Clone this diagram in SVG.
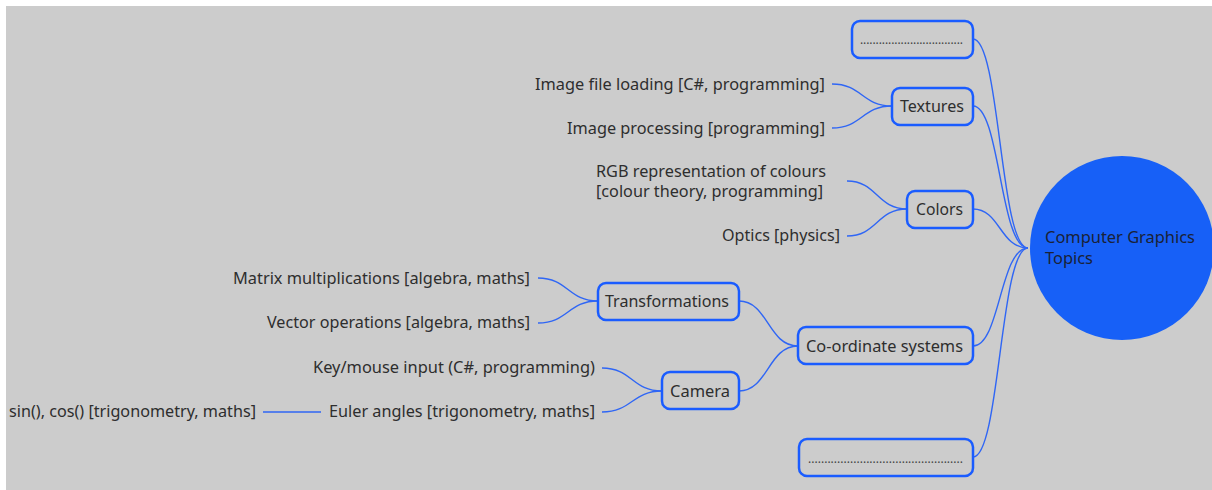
<svg xmlns="http://www.w3.org/2000/svg" width="1212" height="490" viewBox="0 0 1212 490">
<style>
.bg{fill:#cccccc}
.box{fill:none;stroke:#1a5cff;stroke-width:2.5}
.lbl{font-family:"Noto Sans","Open Sans",sans-serif;font-size:16px;fill:#2e2e2e}
.end{text-anchor:end}
.mid{text-anchor:middle}
.root{fill:#1a2238}
.dots{font-family:"Noto Sans",sans-serif;font-size:12px;fill:#444}
.con path{fill:none;stroke:#2f66f5;stroke-width:1.4}
</style>
<rect class="bg" x="6" y="6" width="1206" height="484"/>
<g id="connectors" class="con">
<path d="M973,39 C1000,39 1000,248 1028,248"/>
<path d="M973,106 C1000,106 1000,248 1028,248"/>
<path d="M973,209 C1000,209 1000,248 1028,248"/>
<path d="M973,346 C1000,346 1000,248 1028,248"/>
<path d="M973,457 C1000,457 1000,248 1028,248"/>
<path d="M832,84 C862,84 862,106 892,106"/>
<path d="M832,128 C862,128 862,106 892,106"/>
<path d="M847,181 C877,181 877,209 907,209"/>
<path d="M847,236 C877,236 877,209 907,209"/>
<path d="M739,301 C768,301 768,346 798,346"/>
<path d="M739,391 C768,391 768,346 798,346"/>
<path d="M538,278 C568,278 568,301 598,301"/>
<path d="M538,323 C568,323 568,301 598,301"/>
<path d="M602,368 C632,368 632,391 662,391"/>
<path d="M602,412 C632,412 632,391 662,391"/>
<path d="M263,412 L321,412"/>
</g>
<g id="root">
<circle cx="1122" cy="248" r="92" fill="#1760f7"/>
<text class="lbl root" x="1045" y="243" textLength="150" lengthAdjust="spacingAndGlyphs">Computer Graphics</text>
<text class="lbl root" x="1045" y="264" textLength="48" lengthAdjust="spacingAndGlyphs">Topics</text>
</g>
<g id="node-top">
<rect class="box" x="852" y="21" width="121" height="37" rx="8"/>
<text class="dots" x="860" y="44" textLength="103" lengthAdjust="spacing">.................................</text>
</g>
<g id="node-textures">
<rect class="box" x="892" y="88" width="81" height="37" rx="8"/>
<text class="lbl" x="900" y="112" textLength="64" lengthAdjust="spacingAndGlyphs">Textures</text>
</g>
<g id="node-colors">
<rect class="box" x="907" y="191" width="66" height="37" rx="8"/>
<text class="lbl" x="916" y="215" textLength="47" lengthAdjust="spacingAndGlyphs">Colors</text>
</g>
<g id="node-coord">
<rect class="box" x="798" y="327" width="175" height="37" rx="8"/>
<text class="lbl" x="806" y="352" textLength="157" lengthAdjust="spacingAndGlyphs">Co-ordinate systems</text>
</g>
<g id="node-bottom">
<rect class="box" x="799" y="439" width="174" height="37" rx="8"/>
<text class="dots" x="808" y="463" textLength="155" lengthAdjust="spacing">................................................</text>
</g>
<g id="node-transformations">
<rect class="box" x="598" y="283" width="141" height="37" rx="8"/>
<text class="lbl" x="605" y="307" textLength="124" lengthAdjust="spacingAndGlyphs">Transformations</text>
</g>
<g id="node-camera">
<rect class="box" x="662" y="372" width="77" height="37" rx="8"/>
<text class="lbl" x="670" y="397" textLength="60" lengthAdjust="spacingAndGlyphs">Camera</text>
</g>
<g id="leaf-image-loading"><text class="lbl" x="535" y="90" textLength="290" lengthAdjust="spacingAndGlyphs">Image file loading [C#, programming]</text></g>
<g id="leaf-image-processing"><text class="lbl" x="567" y="134" textLength="258" lengthAdjust="spacingAndGlyphs">Image processing [programming]</text></g>
<g id="leaf-rgb">
<text class="lbl" x="596" y="177" textLength="230" lengthAdjust="spacingAndGlyphs">RGB representation of colours</text>
<text class="lbl" x="596" y="197" textLength="227" lengthAdjust="spacingAndGlyphs">[colour theory, programming]</text>
</g>
<g id="leaf-optics"><text class="lbl" x="722" y="241" textLength="118" lengthAdjust="spacingAndGlyphs">Optics [physics]</text></g>
<g id="leaf-matrix"><text class="lbl" x="233" y="284" textLength="297" lengthAdjust="spacingAndGlyphs">Matrix multiplications [algebra, maths]</text></g>
<g id="leaf-vector"><text class="lbl" x="267" y="328" textLength="263" lengthAdjust="spacingAndGlyphs">Vector operations [algebra, maths]</text></g>
<g id="leaf-key"><text class="lbl" x="313" y="373" textLength="282" lengthAdjust="spacingAndGlyphs">Key/mouse input (C#, programming)</text></g>
<g id="leaf-euler"><text class="lbl" x="329" y="417" textLength="266" lengthAdjust="spacingAndGlyphs">Euler angles [trigonometry, maths]</text></g>
<g id="leaf-sin"><text class="lbl" x="9" y="417" textLength="247" lengthAdjust="spacingAndGlyphs">sin(), cos() [trigonometry, maths]</text></g>
</svg>
